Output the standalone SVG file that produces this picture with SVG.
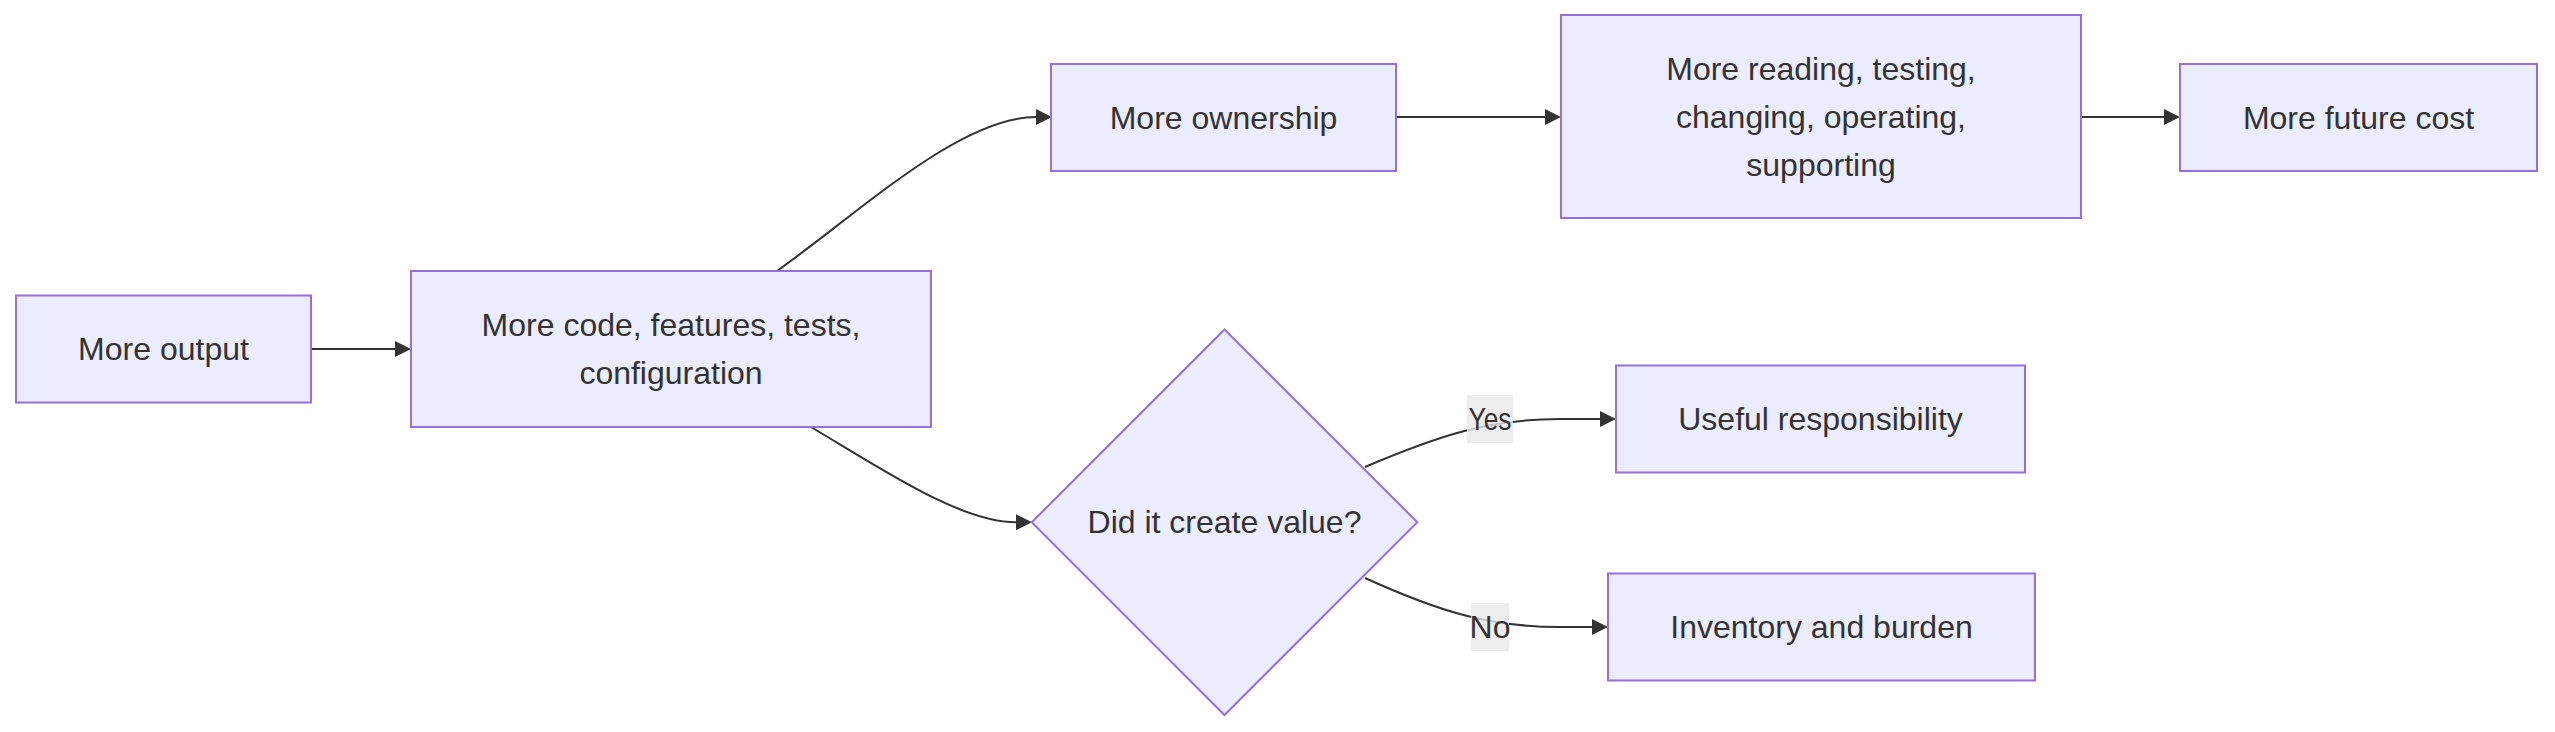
<svg xmlns="http://www.w3.org/2000/svg" width="2555" height="732" viewBox="0 0 2555 732">
<style>
.node rect, .node polygon { fill: #ECECFF; stroke: #9370DB; stroke-width: 2; }
.node text, .lbl text { font-family: "Liberation Sans", Arial, sans-serif; font-size: 32px; fill: #333333; text-anchor: middle; dominant-baseline: central; }
.edge { fill: none; stroke: #333333; stroke-width: 2; marker-end: url(#arrow); }
.lbl rect { fill: #e8e8e8; opacity: 0.8; }
</style>
<defs>
<marker id="arrow" viewBox="0 0 10 10" refX="0" refY="5" markerWidth="16" markerHeight="16" markerUnits="userSpaceOnUse" orient="auto">
<path d="M0,0 L10,5 L0,10 z" fill="#333333"/>
</marker>
</defs>
<g id="connectors">
<path class="edge" d="M311,349 L395,349"/>
<path class="edge" d="M777,271 C860,212 960,117 1036,117"/>
<path class="edge" d="M811,427 C880,468 960,522.3 1016,522.3"/>
<path class="edge" d="M1396,117 L1545,117"/>
<path class="edge" d="M2081,117 L2164,117"/>
<path class="edge" d="M1365,467 C1440,435 1490,419 1560,419 L1600,419"/>
<path class="edge" d="M1365,578 C1440,612 1490,627 1560,627 L1592,627"/>
</g>
<g id="edge-labels">
<g class="lbl" id="label-yes"><rect x="1467" y="395" width="46" height="48"/><text x="1490" y="419" textLength="43" lengthAdjust="spacingAndGlyphs">Yes</text></g>
<g class="lbl" id="label-no"><rect x="1471" y="603" width="38" height="48"/><text x="1490" y="627">No</text></g>
</g>
<g class="node" id="more-output"><rect x="16" y="295.5" width="295" height="107"/><text x="163.5" y="349">More output</text></g>
<g class="node" id="more-code"><rect x="411" y="271" width="520" height="156"/><text x="671" y="325">More code, features, tests,</text><text x="671" y="373">configuration</text></g>
<g class="node" id="more-ownership"><rect x="1051" y="64" width="345" height="107"/><text x="1223.5" y="117.5">More ownership</text></g>
<g class="node" id="more-reading"><rect x="1561" y="15" width="520" height="203"/><text x="1821" y="69">More reading, testing,</text><text x="1821" y="117">changing, operating,</text><text x="1821" y="165">supporting</text></g>
<g class="node" id="more-future-cost"><rect x="2180" y="64" width="357" height="107"/><text x="2358.5" y="117.5">More future cost</text></g>
<g class="node" id="value-decision"><polygon points="1224.5,329.5 1417.3,522.3 1224.5,715 1031.7,522.3"/><text x="1224.5" y="522.3">Did it create value?</text></g>
<g class="node" id="useful-responsibility"><rect x="1616" y="365.5" width="409" height="107"/><text x="1820.5" y="419">Useful responsibility</text></g>
<g class="node" id="inventory-burden"><rect x="1608" y="573.5" width="427" height="107"/><text x="1821.5" y="627">Inventory and burden</text></g>
</svg>
